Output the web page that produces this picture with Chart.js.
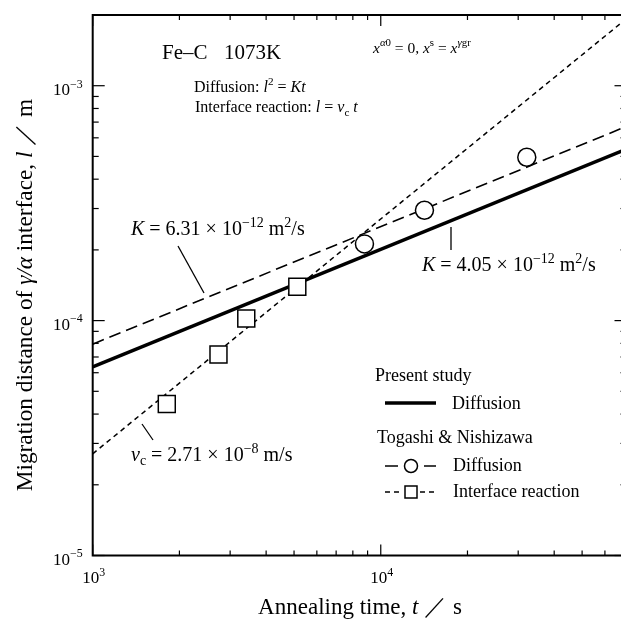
<!DOCTYPE html>
<html>
<head>
<meta charset="utf-8">
<script src="https://cdn.jsdelivr.net/npm/chart.js@4/dist/chart.umd.min.js"></script>
<style>
  html, body { margin: 0; padding: 0; background: #fff; overflow: hidden; }
  canvas { display: block; }
</style>
</head>
<body>
<canvas id="chart" width="640" height="622"></canvas>
<script>
// values (t in s, l in m)
const reactionTimes = [1808, 2733, 3413, 5132];
const reactionDist = [4.42e-5, 7.17e-5, 1.02e-4, 1.395e-4];
const diffusionTimes = [8778, 14180, 32130];
const diffusionDist = [2.12e-4, 2.95e-4, 4.96e-4];

// fitted lines, ends at the left and right frame
const lineTimes = [1e3, 7.13e4];
const presentDiffusion = [6.36e-5, 5.37e-4];
const togashiDiffusion = [7.94e-5, 6.71e-4];
const togashiReaction = [2.71e-5, 1.93e-3];

const xMajor = [1e3, 1e4];
const xMajorLabels = [['10', '3'], ['10', '4']];
const yMajor = [1e-5, 1e-4, 1e-3];
const yMajorLabels = [['10', '−5'], ['10', '−4'], ['10', '−3']];

const FONT = '"Liberation Serif", "Times New Roman", serif';

const toPoints = (xs, ys) => xs.map((x, i) => ({ x: x, y: ys[i] }));

// parts: [text, flags]  i = italic, ^ = superscript, _ = subscript
function drawRich(ctx, parts, x, y, size, align) {
  const items = parts.map((p) => {
    const t = p[0];
    const f = p[1] || '';
    const small = f.includes('^') || f.includes('_');
    const fs = small ? size * 0.7 : size;
    const font = (f.includes('i') ? 'italic ' : '') + fs + 'px ' + FONT;
    ctx.font = font;
    const w = ctx.measureText(t).width;
    let dy = 0;
    if (f.includes('^')) dy = -size * 0.42;
    if (f.includes('_')) dy = size * 0.22;
    return { t, font, w, dy };
  });
  const total = items.reduce((a, b) => a + b.w, 0);
  let cx = x;
  if (align === 'center') cx = x - total / 2;
  if (align === 'right') cx = x - total;
  items.forEach((it) => {
    ctx.font = it.font;
    ctx.fillText(it.t, cx, y + it.dy);
    cx += it.w;
  });
  return total;
}

function line(ctx, x1, y1, x2, y2, w, dash) {
  ctx.save();
  ctx.lineWidth = w;
  ctx.setLineDash(dash || []);
  ctx.beginPath();
  ctx.moveTo(x1, y1);
  ctx.lineTo(x2, y2);
  ctx.stroke();
  ctx.restore();
}

const framePlugin = {
  id: 'frame',
  afterDraw(chart) {
    const ctx = chart.ctx;
    const a = chart.chartArea;
    const xs = chart.scales.x;
    const ys = chart.scales.y;
    ctx.save();
    ctx.strokeStyle = '#000';
    ctx.fillStyle = '#000';
    ctx.textBaseline = 'alphabetic';

    // frame
    ctx.lineWidth = 2;
    ctx.strokeRect(a.left, a.top, a.right - a.left, a.bottom - a.top);

    // x ticks (inward, bottom and top)
    for (let d = 1e3; d <= 1e4; d *= 10) {
      for (let m = 1; m <= 9; m++) {
        const v = d * m;
        if (v > xs.max) break;
        const px = xs.getPixelForValue(v);
        const len = m === 1 ? 11 : 5;
        line(ctx, px, a.bottom, px, a.bottom - len, 1.2);
        line(ctx, px, a.top, px, a.top + len, 1.2);
      }
    }
    // y ticks (inward, left and right)
    for (let d = 1e-5; d <= 1.01e-3; d *= 10) {
      for (let m = 1; m <= 9; m++) {
        const v = d * m;
        if (v > ys.max * 1.001) break;
        const py = ys.getPixelForValue(v);
        const len = m === 1 ? 12 : 6;
        line(ctx, a.left, py, a.left + len, py, 1.2);
        line(ctx, a.right, py, a.right - len, py, 1.2);
      }
    }

    // tick labels
    xMajor.forEach((v, i) => {
      const px = xs.getPixelForValue(v);
      drawRich(ctx, [[xMajorLabels[i][0]], [xMajorLabels[i][1], '^']], px + 1, 583, 17, 'center');
    });
    yMajor.forEach((v, i) => {
      const py = ys.getPixelForValue(v);
      drawRich(ctx, [[yMajorLabels[i][0]], [yMajorLabels[i][1], '^']], a.left - 10, py + 9, 17, 'right');
    });

    // axis titles
    drawRich(ctx, [['Annealing time, '], ['t', 'i'], [' ／ s']], 360, 614, 23, 'center');
    ctx.save();
    ctx.translate(32, 295);
    ctx.rotate(-Math.PI / 2);
    drawRich(ctx, [['Migration distance of '], ['γ/α', 'i'], [' interface, '], ['l', 'i'], [' ／ m']], 0, 0, 23.3, 'center');
    ctx.restore();

    // annotations
    ctx.font = '21px ' + FONT;
    ctx.fillText('Fe–C', 162, 59);
    ctx.fillText('1073K', 224, 59);
    drawRich(ctx, [['Diffusion: '], ['l', 'i'], ['2', '^'], [' = '], ['Kt', 'i']], 194, 92, 16, 'left');
    drawRich(ctx, [['Interface reaction: '], ['l', 'i'], [' = '], ['v', 'i'], ['c', '_'], [' '], ['t', 'i']], 195, 112, 16, 'left');
    drawRich(ctx, [['x', 'i'], ['α', 'i^'], ['0', '^'], [' = 0, '], ['x', 'i'], ['s', '^'], [' = '], ['x', 'i'], ['γ', 'i^'], ['gr', '^']], 373, 53, 15.5, 'left');

    drawRich(ctx, [['K', 'i'], [' = 6.31 × 10'], ['−12', '^'], [' m'], ['2', '^'], ['/s']], 131, 235, 20, 'left');
    line(ctx, 178, 246, 204, 293, 1.3);
    drawRich(ctx, [['K', 'i'], [' = 4.05 × 10'], ['−12', '^'], [' m'], ['2', '^'], ['/s']], 422, 271, 20, 'left');
    line(ctx, 451, 227, 451, 250, 1.3);
    drawRich(ctx, [['v', 'i'], ['c', '_'], [' = 2.71 × 10'], ['−8', '^'], [' m/s']], 131, 461, 20, 'left');
    line(ctx, 142, 424, 153, 440, 1.3);

    // legend
    ctx.font = '18px ' + FONT;
    ctx.fillText('Present study', 375, 381);
    line(ctx, 385, 403, 436, 403, 3.5);
    ctx.fillText('Diffusion', 452, 409);
    ctx.fillText('Togashi & Nishizawa', 377, 443);

    line(ctx, 385, 466, 398, 466, 1.5);
    line(ctx, 424, 466, 436, 466, 1.5);
    ctx.lineWidth = 1.5;
    ctx.beginPath();
    ctx.arc(411, 466, 6.5, 0, Math.PI * 2);
    ctx.stroke();
    ctx.font = '18px ' + FONT;
    ctx.fillText('Diffusion', 453, 471);

    line(ctx, 385, 492, 402, 492, 1.5, [5, 4]);
    line(ctx, 420, 492, 437, 492, 1.5, [5, 4]);
    ctx.lineWidth = 1.5;
    ctx.strokeRect(405, 486, 12, 12);
    ctx.font = '18px ' + FONT;
    ctx.fillText('Interface reaction', 453, 497);

    ctx.restore();
  }
};

new Chart(document.getElementById('chart'), {
  type: 'scatter',
  data: {
    datasets: [
      {
        label: 'Togashi diffusion data',
        data: toPoints(diffusionTimes, diffusionDist),
        pointStyle: 'circle',
        pointRadius: 9,
        pointBackgroundColor: '#fff',
        pointBorderColor: '#000',
        pointBorderWidth: 1.5,
        showLine: false,
      },
      {
        label: 'Togashi reaction data',
        data: toPoints(reactionTimes, reactionDist),
        pointStyle: 'rect',
        pointRadius: 12,
        pointBackgroundColor: '#fff',
        pointBorderColor: '#000',
        pointBorderWidth: 1.5,
        showLine: false,
      },
      {
        label: 'Present study diffusion',
        data: toPoints(lineTimes, presentDiffusion),
        showLine: true,
        borderColor: '#000',
        borderWidth: 3.5,
        pointRadius: 0,
      },
      {
        label: 'Togashi diffusion',
        data: toPoints(lineTimes, togashiDiffusion),
        showLine: true,
        borderColor: '#000',
        borderWidth: 1.6,
        borderDash: [12, 6],
        pointRadius: 0,
      },
      {
        label: 'Togashi interface reaction',
        data: toPoints(lineTimes, togashiReaction),
        showLine: true,
        borderColor: '#000',
        borderWidth: 1.5,
        borderDash: [5, 4],
        pointRadius: 0,
      },
    ],
  },
  options: {
    responsive: false,
    animation: false,
    devicePixelRatio: 1,
    layout: { padding: { left: 92.7, top: 15, right: 10, bottom: 66.5 } },
    plugins: { legend: { display: false }, tooltip: { enabled: false } },
    scales: {
      x: { type: 'logarithmic', min: 1e3, max: 7.13e4, display: false },
      y: { type: 'logarithmic', min: 1e-5, max: 2e-3, display: false },
    },
  },
  plugins: [framePlugin],
});
</script>
</body>
</html>
